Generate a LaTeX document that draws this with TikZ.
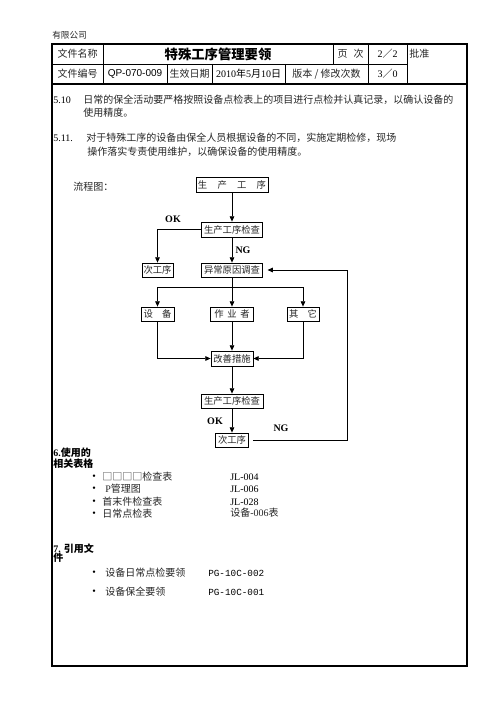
\documentclass[tikz,border=0pt]{standalone}
\usepackage{fontspec}
\setmainfont{Liberation Serif}
\newfontfamily\cjk{Noto Sans CJK SC}
\newfontfamily\lsans{Liberation Sans}
\newfontfamily\lmono{Liberation Mono}
\usetikzlibrary{arrows.meta}
\begin{document}
\begin{tikzpicture}[x=0.75pt,y=-0.75pt,
  txt/.style={anchor=west,inner sep=0pt,text=black!85,font=\cjk\fontsize{7.5}{9}\selectfont},
  ctxt/.style={inner sep=0pt,text=black!85,font=\cjk\fontsize{7.5}{9}\selectfont},
  lat/.style={anchor=west,inner sep=0pt,font=\fontsize{7.5}{9}\selectfont},
  bld/.style={anchor=west,inner sep=0pt,font=\cjk\bfseries\fontsize{7.5}{8}\selectfont},
  fbox/.style={draw,line width=0.6pt,inner sep=0pt,minimum height=10.5pt,text=black!85,font=\cjk\fontsize{7}{8}\selectfont},
  flow/.style={line width=0.6pt},
  arr/.style={line width=0.6pt,-{Triangle[length=4pt,width=3.5pt]}},
  lbl/.style={inner sep=0pt,font=\bfseries\fontsize{7.5}{9}\selectfont}]
\useasboundingbox (0,0) rectangle (496,702);
\fill[white] (0,0) rectangle (496,702);
% frame
\draw[line width=1.5pt] (52,44) rectangle (467,666);
\draw[line width=1.2pt] (52,84) -- (467,84);
\draw[line width=0.6pt] (52,64) -- (407,64);
\draw[line width=0.6pt] (103,44) -- (103,84) (407,44) -- (407,84) (368,44) -- (368,84)
  (333,44) -- (333,64) (167,64) -- (167,84) (212,64) -- (212,84) (285,64) -- (285,84);
% header texts
\node[txt,font=\cjk\fontsize{6.5}{8}\selectfont] (co) at (52,35) {有限公司};
\node[ctxt] (h1) at (77.5,54) {文件名称};
\node[ctxt,text=black,font=\cjk\bfseries\fontsize{10}{12}\selectfont] (title) at (218,54) {特殊工序管理要领};
\node[ctxt] (h3) at (350.5,54) {页\hspace{0.6em}次};
\node[ctxt,text=black] (h4) at (387.5,54) {\fontsize{7.5}{9}\selectfont\rmfamily 2{\cjk ／}2};
\node[txt] (h5) at (409,54) {批准};
\node[ctxt] (h6) at (77.5,74) {文件编号};
\node[ctxt,text=black,font=\lsans\fontsize{7.5}{9}\selectfont] (h7) at (135,74) {QP-070-009};
\node[ctxt] (h8) at (189.5,74) {生效日期};
\node[ctxt,text=black,font=\fontsize{7.5}{9}\selectfont] (h9) at (248.5,74) {2010{\cjk 年}5{\cjk 月}10{\cjk 日}};
\node[ctxt] (h10) at (326.5,74) {版本 / 修改次数};
\node[ctxt,text=black,font=\fontsize{7.5}{9}\selectfont] (h11) at (387.5,74) {3{\cjk ／}0};
% section 5 texts
\node[lat] (n510) at (53,100) {5.10};
\node[txt] (t510a) at (83,100) {日常的保全活动要严格按照设备点检表上的项目进行点检并认真记录，以确认设备的};
\node[txt] (t510b) at (83,113) {使用精度。};
\node[lat] (n511) at (53,138) {5.11.};
\node[txt] (t511a) at (86,138) {对于特殊工序的设备由保全人员根据设备的不同，实施定期检修，现场};
\node[txt] (t511b) at (87,152) {操作落实专责使用维护，以确保设备的使用精度。};
\node[txt] (flow) at (73,187) {流程图：};
% flowchart boxes
\node[fbox,minimum width=54pt,minimum height=11.25pt] (top) at (232,184.5) {生\hspace{1.1em}产\hspace{1.1em}工\hspace{1.1em}序};
\node[fbox,minimum width=45.75pt,minimum height=11.25pt] (chk1) at (232,229.5) {生产工序检查};
\node[fbox,minimum width=23.25pt] (next1) at (157.5,270) {次工序};
\node[fbox,minimum width=45.75pt] (abn) at (232,270) {异常原因调查};
\node[fbox,minimum width=24.75pt] (eq) at (157.5,314) {设\hspace{1em}备};
\node[fbox,minimum width=32.25pt] (op) at (232,314) {作\hspace{0.4em}业\hspace{0.4em}者};
\node[fbox,minimum width=24pt] (oth) at (303,314) {其\hspace{1em}它};
\node[fbox,minimum width=31.5pt,minimum height=11.25pt] (imp) at (232,358.5) {改善措施};
\node[fbox,minimum width=46.5pt] (chk2) at (232,401) {生产工序检查};
\node[fbox,minimum width=24.75pt] (next2) at (232,440) {次工序};
% labels
\node[lbl] (ok1) at (173,219) {OK};
\node[lbl] (ng1) at (243,250) {NG};
\node[lbl] (ok2) at (215,421) {OK};
\node[lbl] (ng2) at (281,428) {NG};
% connectors
\coordinate (jn) at (232,287);
\coordinate (fb) at (347,440);
\draw[arr] (top) -- (chk1);
\draw[arr] (chk1.west) -| (next1.north);
\draw[arr] (chk1) -- (abn);
\draw[flow] (abn.south) -- (jn);
\draw[arr] (jn) -| (eq.north);
\draw[arr] (jn) -| (oth.north);
\draw[arr] (jn) -- (op.north);
\draw[arr] (eq.south) |- (imp.west);
\draw[arr] (oth.south) |- (imp.east);
\draw[arr] (op) -- (imp);
\draw[arr] (imp) -- (chk2);
\draw[arr] (chk2) -- (next2);
\draw[arr,shorten <=3pt,shorten >=3.5pt] (next2.east) -- (fb) |- (abn.east);
% section 6
\node[bld] (s6a) at (53,453) {{\rmfamily\bfseries 6.}使用的};
\node[bld] (s6b) at (53,464) {相关表格};
\node[lat] (b1) at (92,477) {•};
\node[txt] (c1) at (102,477) {□□□□检查表};
\node[lat] (b2) at (92,489) {•};
\node[txt] (c2) at (102,489) {\hspace{0.3em}{\rmfamily P}管理图};
\node[lat] (b3) at (92,502) {•};
\node[txt] (c3) at (102,502) {首末件检查表};
\node[lat] (b4) at (92,514) {•};
\node[txt] (c4) at (102,514) {日常点检表};
\node[lat] (r1) at (230,477) {JL-004};
\node[lat] (r2) at (230,489) {JL-006};
\node[lat] (r3) at (230,502) {JL-028};
\node[txt] (r4) at (230,513) {设备{\rmfamily -006}表};
% section 7
\node[bld] (s7a) at (53,549) {{\rmfamily\bfseries 7.} 引用文};
\node[bld] (s7b) at (53,558) {件};
\node[lat] (b5) at (92,573) {•};
\node[txt] (c5) at (105,573) {设备日常点检要领};
\node[lat,font=\lmono\fontsize{7}{9}\selectfont] (p1) at (208,573) {PG-10C-002};
\node[lat] (b6) at (92,592) {•};
\node[txt] (c6) at (105,592) {设备保全要领};
\node[lat,font=\lmono\fontsize{7}{9}\selectfont] (p2) at (208,592) {PG-10C-001};
\end{tikzpicture}
\end{document}
